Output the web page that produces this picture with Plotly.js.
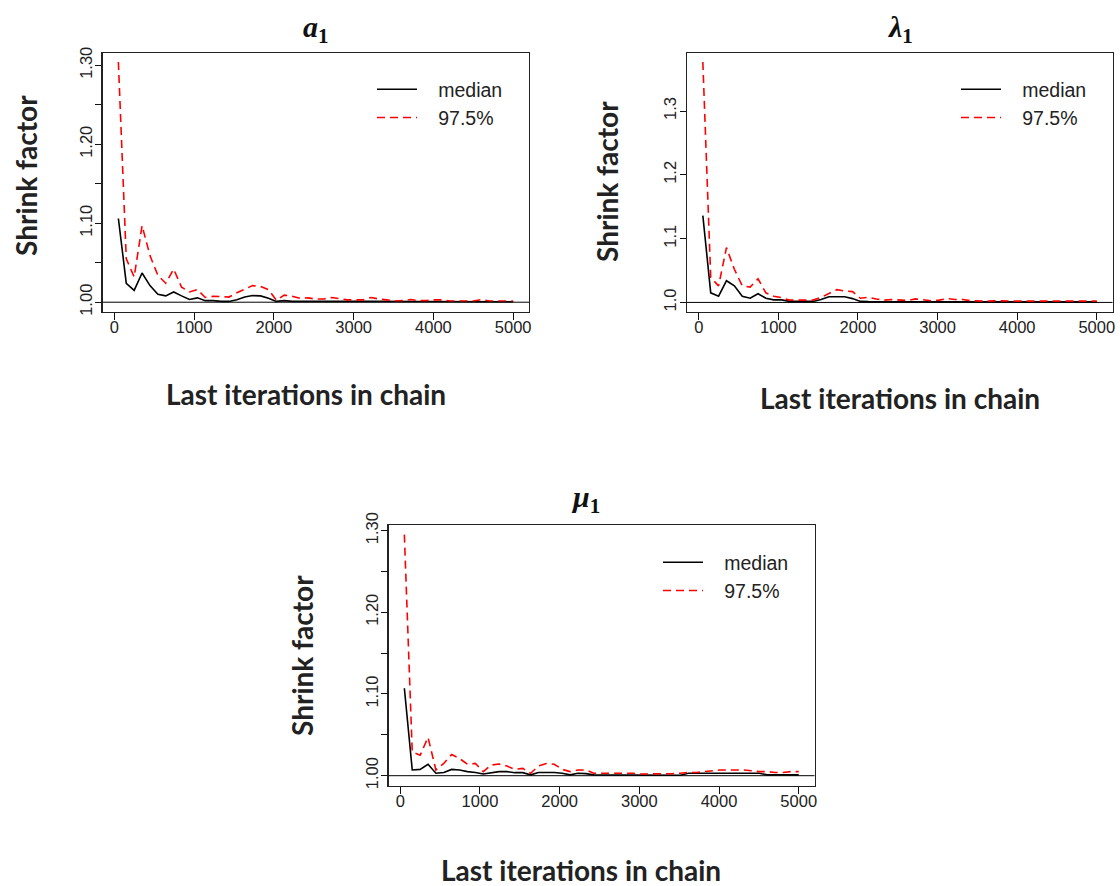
<!DOCTYPE html>
<html>
<head>
<meta charset="utf-8">
<script src="https://cdn.plot.ly/plotly-3.0.1.min.js"></script>
<style>html,body{margin:0;padding:0;background:#fff;}#chart{width:1120px;height:886px;}</style>
</head>
<body>
<div id="chart"></div>
<script>
// ---- data ----
const iterations = [51,150,249,348,447,546,645,744,843,942,1041,1140,1239,1338,1437,1536,1635,1734,1833,1932,2031,2130,2229,2328,2427,2526,2625,2724,2823,2922,3021,3120,3219,3318,3417,3516,3615,3714,3813,3912,4011,4110,4209,4308,4407,4506,4605,4704,4803,4902,5000];

const a1Median = [1.106,1.024,1.015,1.037,1.021,1.010,1.008,1.013,1.008,1.0034,1.0055,1.002,1.002,1.001,1.001,1.003,1.0065,1.0084,1.008,1.005,1.001,1.002,1.001,1.0012,1.0012,1.001,1.001,1.0012,1.001,1.0008,1.0008,1.001,1.0012,1.001,1.0008,1.0008,1.0008,1.001,1.0008,1.0008,1.0008,1.0008,1.0006,1.0006,1.0006,1.0006,1.0008,1.0006,1.0006,1.0006,1.0006];
const a1Upper = [1.304,1.055,1.032,1.097,1.059,1.034,1.024,1.042,1.019,1.013,1.016,1.006,1.0076,1.007,1.0065,1.012,1.017,1.021,1.020,1.016,1.0025,1.009,1.0076,1.005,1.0055,1.004,1.004,1.006,1.0045,1.003,1.003,1.003,1.006,1.004,1.003,1.0015,1.002,1.0034,1.002,1.002,1.003,1.003,1.0015,1.0015,1.0015,1.0015,1.0034,1.0015,1.0015,1.0015,1.0015];

const lambda1Median = [1.136,1.015,1.0098,1.034,1.026,1.0098,1.0067,1.0136,1.0067,1.004,1.004,1.0016,1.0016,1.0016,1.0016,1.0047,1.0089,1.0089,1.0089,1.006,1.0016,1.0012,1.0012,1.001,1.0012,1.001,1.001,1.0012,1.001,1.001,1.001,1.0012,1.001,1.001,1.001,1.0008,1.0008,1.0008,1.0008,1.0008,1.0008,1.0008,1.0008,1.0008,1.0008,1.0008,1.0008,1.0008,1.0008,1.0008,1.0008];
const lambda1Upper = [1.377,1.039,1.026,1.086,1.052,1.026,1.024,1.037,1.015,1.0098,1.0075,1.0036,1.0036,1.0036,1.0036,1.0078,1.014,1.020,1.018,1.017,1.0065,1.008,1.0055,1.0036,1.0045,1.0036,1.003,1.0055,1.0036,1.0025,1.0036,1.006,1.0045,1.0045,1.0025,1.002,1.002,1.0025,1.002,1.002,1.002,1.002,1.002,1.002,1.002,1.002,1.002,1.002,1.002,1.002,1.002];

const mu1Median = [1.107,1.007,1.0077,1.014,1.003,1.004,1.0077,1.007,1.005,1.004,1.002,1.0037,1.005,1.005,1.0037,1.0037,1.001,1.004,1.004,1.004,1.003,1.001,1.003,1.0025,1.001,1.001,1.001,1.001,1.001,1.001,1.0008,1.0005,1.0005,1.0005,1.0008,1.0005,1.003,1.003,1.003,1.003,1.003,1.003,1.003,1.003,1.003,1.003,1.001,1.001,1.001,1.001,1.001];
const mu1Upper = [1.295,1.029,1.025,1.047,1.007,1.015,1.026,1.021,1.014,1.015,1.005,1.013,1.0143,1.0118,1.0078,1.009,1.0029,1.0118,1.015,1.014,1.0078,1.005,1.007,1.007,1.003,1.003,1.003,1.003,1.003,1.003,1.002,1.002,1.002,1.002,1.0025,1.003,1.004,1.004,1.005,1.006,1.007,1.007,1.007,1.007,1.006,1.005,1.005,1.004,1.004,1.005,1.005];

const xTickVals = [0,1000,2000,3000,4000,5000];
const xTickText = ['0','1000','2000','3000','4000','5000'];
const yTickVals = [1.0,1.1,1.2,1.3];
const yTickTextA = ['1.00','1.10','1.20','1.30'];
const yMinorValsA = [1.05,1.15,1.25];
const yTickTextB = ['1.0','1.1','1.2','1.3'];
const seriesNames = ['median','97.5%'];
const refLevel = 1;

// ---- styling ----
const W = 1120, H = 886;
const px = v => v / W;
const py = v => (H - v) / H;

const tickFont = {family:'Liberation Sans, Arial, sans-serif', size:16.5, color:'#222'};
const xBase = {
  range:[-148,5198], tickmode:'array', tickvals:xTickVals, ticktext:xTickText,
  ticks:'outside', ticklen:7, tickwidth:1, tickcolor:'#111', ticklabelstandoff:-7,
  showline:true, mirror:true, linecolor:'#222', linewidth:1.3,
  showgrid:false, zeroline:false, tickfont:tickFont, fixedrange:true
};
const yBase = {
  tickmode:'array', tickvals:yTickVals, ticks:'outside', ticklen:6, tickwidth:1, tickcolor:'#111', ticklabelstandoff:-3,
  showline:true, mirror:true, linecolor:'#222', linewidth:1.3,
  showgrid:false, zeroline:false, tickfont:tickFont, tickangle:-90, fixedrange:true
};
const yMinorA = {tickmode:'array', tickvals:yMinorValsA, ticks:'outside', ticklen:6, tickwidth:1, tickcolor:'#111', showgrid:false};

const medianLine = {color:'#000', width:1.6};
const upperLine = {color:'#ff0000', width:1.6, dash:'8px,5px'};
const pad = '\u00a0\u00a0\u00a0';

const panels = [
  {xa:'x', ya:'y', lg:'legend', med:a1Median, up:a1Upper},
  {xa:'x2', ya:'y2', lg:'legend2', med:lambda1Median, up:lambda1Upper},
  {xa:'x3', ya:'y3', lg:'legend3', med:mu1Median, up:mu1Upper}
];

const traces = [];
panels.forEach(p => {
  traces.push({x:iterations, y:p.med, xaxis:p.xa, yaxis:p.ya, mode:'lines', name:pad + seriesNames[0], line:medianLine, legend:p.lg, hoverinfo:'skip'});
  traces.push({x:iterations, y:p.up, xaxis:p.xa, yaxis:p.ya, mode:'lines', name:pad + seriesNames[1], line:upperLine, legend:p.lg, hoverinfo:'skip'});
});

const legendBase = {
  xanchor:'left', yanchor:'top', bgcolor:'rgba(0,0,0,0)', borderwidth:0,
  font:{family:'Liberation Sans, Arial, sans-serif', size:19.5, color:'#222'},
  itemwidth:40, tracegroupgap:0, traceorder:'normal'
};

const titleFont = {family:'Liberation Serif, Times New Roman, serif', size:30, color:'#111'};
const labFont = {family:'Lato, Open Sans, sans-serif', size:28, color:'#222'};

function ann(text, x, y, font, angle) {
  return {text:text, x:px(x), y:py(y), xref:'paper', yref:'paper', showarrow:false,
          xanchor:'center', yanchor:'middle', font:font, textangle:angle || 0};
}

const layout = {
  width:W, height:H, margin:{l:0,r:0,t:0,b:0},
  paper_bgcolor:'#fff', plot_bgcolor:'#fff', showlegend:true,
  xaxis:Object.assign({}, xBase, {domain:[px(102.5), px(529)], anchor:'y'}),
  yaxis:Object.assign({}, yBase, {domain:[py(312), py(53)], anchor:'x', range:[0.9876,1.3155], ticktext:yTickTextA, minor:yMinorA}),
  xaxis2:Object.assign({}, xBase, {domain:[px(687), px(1112.5)], anchor:'y2'}),
  yaxis2:Object.assign({}, yBase, {domain:[py(312), py(53)], anchor:'x2', range:[0.985,1.391], ticktext:yTickTextB}),
  xaxis3:Object.assign({}, xBase, {domain:[px(388.5), px(814.5)], anchor:'y3'}),
  yaxis3:Object.assign({}, yBase, {domain:[py(785.5), py(525)], anchor:'x3', range:[0.988,1.3068], ticktext:yTickTextA, minor:yMinorA}),
  legend:Object.assign({}, legendBase, {x:px(372), y:py(70)}),
  legend2:Object.assign({}, legendBase, {x:px(956), y:py(70)}),
  legend3:Object.assign({}, legendBase, {x:px(658), y:py(543)}),
  shapes:[
    {type:'line', xref:'x domain', x0:0, x1:1, yref:'y', y0:refLevel, y1:refLevel, line:{color:'#000', width:1}},
    {type:'line', xref:'x2 domain', x0:0, x1:1, yref:'y2', y0:refLevel, y1:refLevel, line:{color:'#000', width:1}},
    {type:'line', xref:'x3 domain', x0:0, x1:1, yref:'y3', y0:refLevel, y1:refLevel, line:{color:'#000', width:1}}
  ],
  annotations:[
    ann('<b><i>a</i><sub>1</sub></b>', 316, 29, titleFont),
    ann('<b><i>λ</i><sub>1</sub></b>', 900, 29, titleFont),
    ann('<b><i>μ</i><sub>1</sub></b>', 585, 499, titleFont),
    ann('<b>Shrink factor</b>', 26, 176, labFont, -90),
    ann('<b>Shrink factor</b>', 607, 182, labFont, -90),
    ann('<b>Shrink factor</b>', 302, 656, labFont, -90),
    ann('<b>Last iterations in chain</b>', 306, 394, labFont),
    ann('<b>Last iterations in chain</b>', 900, 398, labFont),
    ann('<b>Last iterations in chain</b>', 581, 870, labFont)
  ]
};

Plotly.newPlot('chart', traces, layout, {staticPlot:true, displayModeBar:false});
</script>
</body>
</html>
